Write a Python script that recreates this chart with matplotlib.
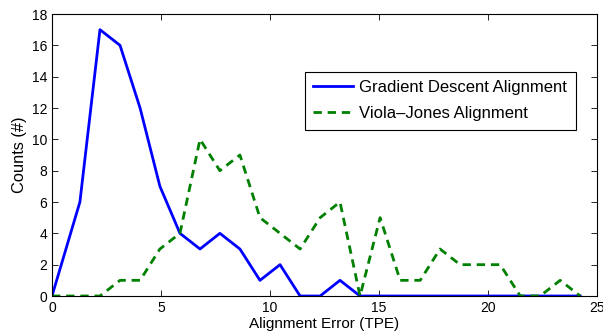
import matplotlib.pyplot as plt

# point positions along the x axis (TPE)
x_vals = [0.0, 1.28, 2.2, 3.12, 4.04, 4.95, 5.87, 6.79, 7.7, 8.62, 9.54, 10.46,
          11.38, 12.3, 13.21, 14.13, 15.05, 15.97, 16.89, 17.8, 18.72, 19.64,
          20.56, 21.48, 22.39, 23.31, 24.23]

gradient_counts = [0, 6, 17, 16, 12, 7, 4, 3, 4, 3, 1, 2, 0, 0, 1, 0, 0, 0, 0, 0,
                   0, 0, 0, 0, 0, 0, 0]
viola_counts = [0, 0, 0, 1, 1, 3, 4, 10, 8, 9, 5, 4, 3, 5, 6, 0, 5, 1, 1, 3,
                2, 2, 2, 0, 0, 1, 0]

x_ticks = [0, 5, 10, 15, 20, 25]
y_ticks = [0, 2, 4, 6, 8, 10, 12, 14, 16, 18]

plt.rcParams['font.family'] = ['Liberation Sans', 'DejaVu Sans']

fig = plt.figure(figsize=(6.03, 3.36), dpi=100)
ax = fig.add_axes([52 / 603, 40 / 336, 545 / 603, 282 / 336])

ax.plot(x_vals, gradient_counts, color='#0000ff', lw=2, label='Gradient Descent Alignment')
ax.plot(x_vals, viola_counts, color='#008000', lw=2, dashes=(3, 2.1),
        label='Viola\u2013Jones Alignment')

ax.set_xlim(0, 25)
ax.set_ylim(0, 18)
ax.set_xticks(x_ticks)
ax.set_yticks(y_ticks)
ax.tick_params(direction='in', top=True, right=True, labelsize=10, length=4, width=0.6)
for s in ax.spines.values():
    s.set_linewidth(0.8)

ax.set_xlabel('Alignment Error (TPE)', fontsize=11, labelpad=1.5)
ax.set_ylabel('Counts (#)', fontsize=11.8, labelpad=3)

leg = ax.legend(loc='upper left', bbox_to_anchor=(253 / 545, 1 - 58 / 282), fontsize=12,
                fancybox=False, edgecolor='black', framealpha=1, handlelength=2.4,
                borderpad=0.5, borderaxespad=0, labelspacing=0.65, handletextpad=0.36)
leg.get_frame().set_linewidth(0.8)

fig.savefig('out.png', dpi=100)
